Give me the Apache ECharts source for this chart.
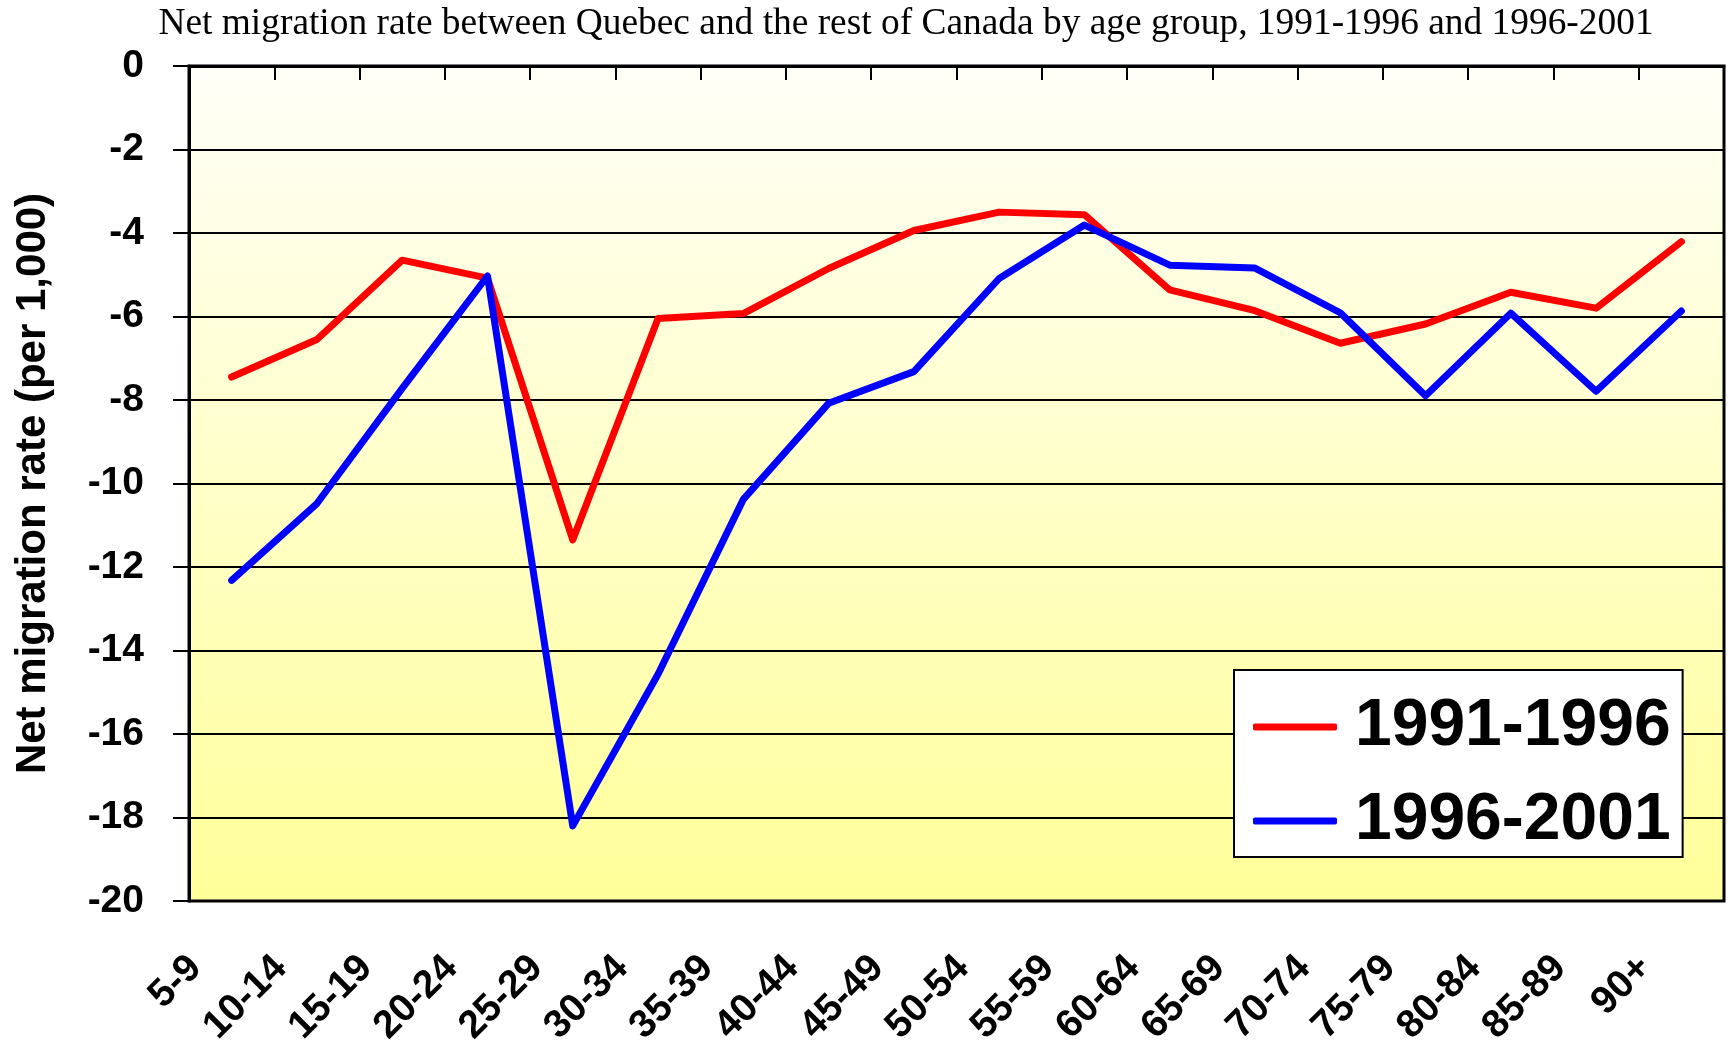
<!DOCTYPE html>
<html>
<head>
<meta charset="utf-8">
<title>Net migration rate Quebec</title>
<script src="https://cdn.jsdelivr.net/npm/echarts@6/dist/echarts.min.js"></script>
<style>
  html, body { margin: 0; padding: 0; background: #fff; }
  #main { width: 1734px; height: 1047px; }
</style>
</head>
<body>
<div id="main"></div>
<script>
  // age groups (x axis)
  var ageGroups = ['5-9', '10-14', '15-19', '20-24', '25-29', '30-34', '35-39', '40-44', '45-49',
    '50-54', '55-59', '60-64', '65-69', '70-74', '75-79', '80-84', '85-89', '90+']
  // net migration rate per 1,000
  var rate9196 = [-7.45, -6.55, -4.65, -5.08, -11.35, -6.05, -5.93, -4.85, -3.94,
    -3.50, -3.56, -5.36, -5.86, -6.64, -6.18, -5.42, -5.80, -4.21]
  var rate9601 = [-12.32, -10.48, -7.72, -5.03, -18.2, -14.57, -10.38, -8.08, -7.32,
    -5.09, -3.81, -4.77, -4.84, -5.91, -7.90, -5.92, -7.79, -5.87]
  var seriesNames = ['1991-1996', '1996-2001']

  var font = 'Arial, "Liberation Sans", sans-serif'
  var chart = echarts.init(document.getElementById('main'))
  chart.setOption({
    animation: false,
    backgroundColor: '#fff',
    title: {
      text: 'Net migration rate between Quebec and the rest of Canada by age group, 1991-1996 and 1996-2001',
      left: 901,
      top: 1,
      textAlign: 'center',
      textStyle: {
        fontFamily: '"Times New Roman", "Liberation Serif", serif',
        fontWeight: 'normal',
        fontSize: 37.4,
        color: '#000'
      }
    },
    grid: {
      left: 189,
      right: 10,
      top: 66,
      bottom: 146,
      outerBoundsMode: 'none', // keep the plot box fixed, labels may reach the edge
      show: true,
      borderColor: '#000',
      borderWidth: 3,
      backgroundColor: new echarts.graphic.LinearGradient(0, 0, 0, 1, [
        { offset: 0, color: '#fffff8' },
        { offset: 1, color: '#ffff99' }
      ])
    },
    legend: {
      orient: 'vertical',
      left: 1234,
      top: 670,
      backgroundColor: '#fff',
      borderColor: '#000',
      borderWidth: 2,
      padding: [22, 12, 1, 19],
      itemWidth: 84,
      itemHeight: 7,
      itemGap: 24,
      icon: 'roundRect',
      data: seriesNames,
      textStyle: {
        fontFamily: font,
        fontWeight: 'bold',
        fontSize: 66,
        lineHeight: 70,
        color: '#000',
        padding: [0, 0, 0, 13]
      }
    },
    xAxis: [{
      type: 'category',
      position: 'bottom',
      data: ageGroups,
      axisLine: { show: false },
      axisTick: { show: false },
      axisLabel: {
        interval: 0,
        rotate: 45,
        margin: 25,
        padding: [0, 51, 0, 0],
        fontFamily: font,
        fontWeight: 'bold',
        fontSize: 39,
        color: '#000'
      }
    }, {
      type: 'category',
      position: 'top',
      data: ageGroups,
      axisLine: { show: true, lineStyle: { color: '#000', width: 3 } },
      axisTick: { show: true, inside: true, length: 14, lineStyle: { color: '#000', width: 2 } },
      axisLabel: { show: false }
    }],
    yAxis: {
      type: 'value',
      min: -20,
      max: 0,
      interval: 2,
      name: 'Net migration rate (per 1,000)',
      nameLocation: 'middle',
      nameGap: 135,
      nameTextStyle: {
        fontFamily: font,
        fontWeight: 'bold',
        fontSize: 42,
        color: '#000'
      },
      axisLine: { show: true, lineStyle: { color: '#000', width: 3 } },
      axisTick: { show: true, length: 16, lineStyle: { color: '#000', width: 2 } },
      axisLabel: {
        margin: 45,
        fontFamily: font,
        fontWeight: 'bold',
        fontSize: 39,
        color: '#000'
      },
      splitLine: { show: true, lineStyle: { color: '#000', width: 2 } }
    },
    series: [{
      name: seriesNames[0],
      type: 'line',
      xAxisIndex: 0,
      data: rate9196,
      symbol: 'none',
      color: '#ff0000',
      lineStyle: { width: 7, color: '#ff0000', cap: 'round', join: 'round' }
    }, {
      name: seriesNames[1],
      type: 'line',
      xAxisIndex: 0,
      data: rate9601,
      symbol: 'none',
      color: '#0000ff',
      lineStyle: { width: 7, color: '#0000ff', cap: 'round', join: 'round' }
    }]
  })
</script>
</body>
</html>
